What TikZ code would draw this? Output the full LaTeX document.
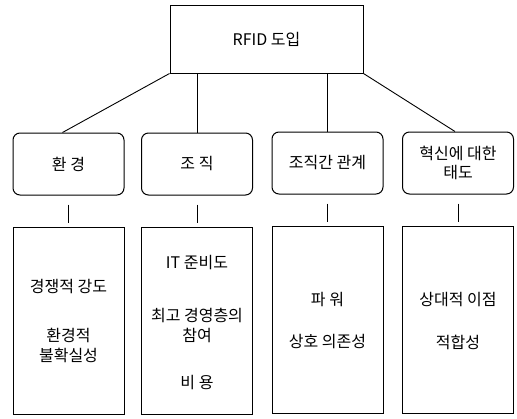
\documentclass[tikz,border=0pt]{standalone}
\usepackage{fontspec}
\setmainfont{Noto Sans CJK KR}
\usetikzlibrary{calc}
\begin{document}
\begin{tikzpicture}[x=1pt,y=-1pt,
  every node/.style={font=\fontsize{16}{19}\selectfont, inner sep=0pt},
  topbox/.style={draw, line width=1pt, minimum width=193pt, minimum height=68pt},
  midbox/.style={draw, line width=1pt, rounded corners=7pt, minimum width=111pt, minimum height=62pt, align=center},
  botbox/.style={draw, line width=0.9pt, minimum width=111pt, minimum height=187pt},
  txt/.style={align=center},
  conn/.style={line width=0.9pt}]
\useasboundingbox (0,0) rectangle (517,418);
\node[topbox] (top) at (266.5,39) {RFID 도입};
\node[midbox] (m1) at (68.5,164) {환 경};
\node[midbox] (m2) at (197,164) {조 직};
\node[midbox] (m3) at (327.5,163) {조직간 관계};
\node[midbox, font=\fontsize{16}{19}\selectfont] (m4) at (458,163) {혁신에 대한\\태도};
\node[botbox] (b1) at (68.5,321) {};
\node[botbox] (b2) at (197,321) {};
\node[botbox] (b3) at (327.5,320) {};
\node[botbox] (b4) at (458,320) {};
% texts
\node[txt] (t11) at (68.5,287) {경쟁적 강도};
\node[txt, font=\fontsize{16}{20}\selectfont] (t12) at (68.5,345) {환경적\\불확실성};
\node[txt] (t21) at (197,263) {IT 준비도};
\node[txt, font=\fontsize{16}{20}\selectfont] (t22) at (197,325) {최고 경영층의\\참여};
\node[txt] (t23) at (197,383) {비 용};
\node[txt] (t31) at (327.5,300) {파 워};
\node[txt] (t32) at (327.5,342) {상호 의존성};
\node[txt] (t41) at (458,300) {상대적 이점};
\node[txt] (t42) at (458,342) {적합성};
% connectors
\draw[conn] (top.south west) -- ($(m1.north)+(-6,0)$);
\draw[conn] (top.south -| m2.north) -- (m2.north);
\draw[conn] (top.south -| m3.north) -- (m3.north);
\draw[conn] (top.south east) -- ($(m4.north)+(-3,0)$);
\foreach \i in {1,2,3,4}{
  \draw[conn] ($(m\i.south)+(0,9)$) -- ($(b\i.north)+(0,-4)$);
}
\end{tikzpicture}
\end{document}
